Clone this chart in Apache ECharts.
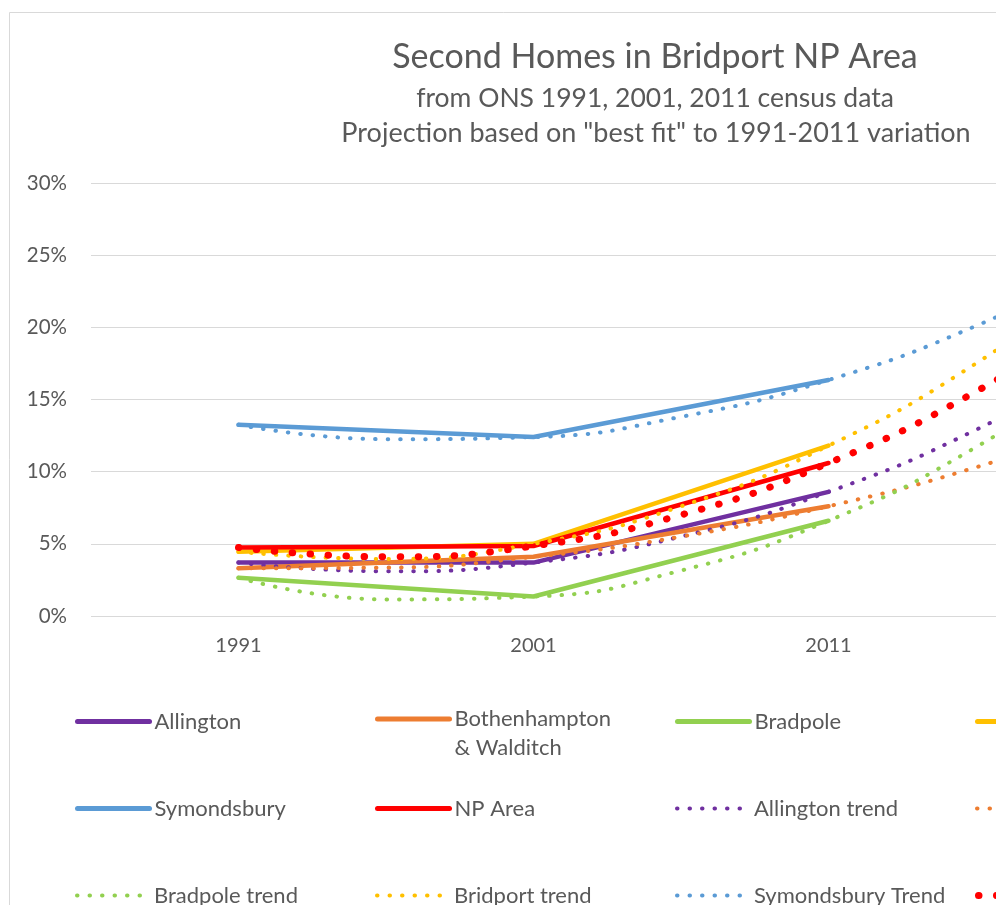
<!DOCTYPE html>
<html>
<head>
<meta charset="utf-8">
<title>Second Homes in Bridport NP Area</title>
<script src="https://cdn.jsdelivr.net/npm/echarts@6/dist/echarts.min.js"></script>
<style>
  html, body { margin: 0; padding: 0; background: #fff; }
  #chart { width: 996px; height: 905px; }
</style>
</head>
<body>
<div id="chart"></div>
<script>
// census years and the projected year
var years = [1991, 2001, 2011, 2021];
var trendYears = [1991, 1996, 2001, 2006, 2011, 2016, 2021];
var yTicks = ['0%', '5%', '10%', '15%', '20%', '25%', '30%'];

// share of second homes, %
var allington = [3.7, 3.7, 8.6];
var bothenhampton = [3.3, 4.1, 7.6];
var bradpole = [2.65, 1.35, 6.6];
var bridport = [4.45, 5.0, 11.8];
var symondsbury = [13.25, 12.4, 16.35];
var npArea = [4.75, 4.85, 10.6];

// dotted "best fit" curves, read at 5-year steps
var allingtonTrend = [3.7, 3.1, 3.7, 5.5, 8.6, 12.9, 18.4];
var bothenhamptonTrend = [3.3, 3.35, 4.1, 5.5, 7.6, 10.3, 13.7];
var bradpoleTrend = [2.65, 1.15, 1.35, 3.15, 6.6, 11.7, 18.4];
var bridportTrend = [4.45, 3.95, 5.0, 7.6, 11.8, 17.5, 24.8];
var symondsburyTrend = [13.25, 12.25, 12.4, 13.8, 16.35, 20.1, 25.0];
var npAreaTrend = [4.75, 4.1, 4.85, 7.0, 10.6, 15.55, 21.9];

var textColor = '#595959';
var font = 'Lato';

function pairs(xs, vs) {
  var out = [];
  for (var i = 0; i < vs.length; i++) out.push([xs[i], vs[i]]);
  return out;
}

function solid(name, color, vals) {
  return {
    name: name, type: 'line', symbol: 'none',
    data: pairs(years, vals),
    lineStyle: { color: color, width: 4.5, cap: 'round', join: 'round' },
    itemStyle: { color: color }
  };
}

function dotted(name, color, vals, w, gap) {
  return {
    name: name, type: 'line', symbol: 'none', smooth: true,
    data: pairs(trendYears, vals),
    lineStyle: { color: color, width: w, type: [0.5, gap], cap: 'round' },
    itemStyle: { color: color }
  };
}

var series = [
  solid('Allington', '#7030A0', allington),
  solid('Bothenhampton & Walditch', '#ED7D31', bothenhampton),
  solid('Bradpole', '#92D050', bradpole),
  solid('Bridport', '#FFC000', bridport),
  solid('Symondsbury', '#5B9BD5', symondsbury),
  solid('NP Area', '#FF0000', npArea),
  dotted('Allington trend', '#7030A0', allingtonTrend, 4, 12),
  dotted('Bothenhampton trend', '#ED7D31', bothenhamptonTrend, 4, 12),
  dotted('Bradpole trend', '#92D050', bradpoleTrend, 4, 12),
  dotted('Bridport trend', '#FFC000', bridportTrend, 4, 12),
  dotted('Symondsbury Trend', '#5B9BD5', symondsburyTrend, 4, 12),
  dotted('NP Area trend', '#FF0000', npAreaTrend, 7, 17.5)
];

// legend: 4 columns, one legend per entry so columns line up like Excel
var legendNames = [
  'Allington', 'Bothenhampton & Walditch', 'Bradpole', 'Bridport',
  'Symondsbury', 'NP Area', 'Allington trend', 'Bothenhampton trend',
  'Bradpole trend', 'Bridport trend', 'Symondsbury Trend', 'NP Area trend'
];
var legends = [];
for (var i = 0; i < legendNames.length; i++) {
  var col = i % 4, row = Math.floor(i / 4);
  var isTrend = i >= 6;
  var lg = {
    data: [legendNames[i]],
    left: 75 + col * 300,
    top: 707 + row * 87,
    padding: 0,
    itemWidth: 72,
    itemHeight: 24,
    itemStyle: { opacity: 0 },
    lineStyle: { width: legendNames[i] === 'NP Area trend' ? 7 : (isTrend ? 4 : 5), cap: 'round' },
    textStyle: { color: textColor, fontSize: 22, fontFamily: font, lineHeight: 29 },
    selectedMode: false
  };
  if (legendNames[i] === 'Bothenhampton & Walditch') {
    // empty first line keeps "Bothenhampton" level with the icon
    lg.formatter = function () { return '\nBothenhampton\n& Walditch'; };
    lg.top = 707 - 31.5;
  }
  legends.push(lg);
}

var chart = echarts.init(document.getElementById('chart'));
var option = {
  backgroundColor: '#fff',
  animation: false,
  title: [
    { text: 'Second Homes in Bridport NP Area', left: 655, top: 40, padding: 0, textAlign: 'center',
      textStyle: { color: textColor, fontSize: 34, fontWeight: 'normal', fontFamily: font, lineHeight: 34 } },
    { text: 'from ONS 1991, 2001, 2011 census data', left: 655, top: 85, padding: 0, textAlign: 'center',
      textStyle: { color: textColor, fontSize: 26.5, fontWeight: 'normal', fontFamily: font, lineHeight: 27 } },
    { text: 'Projection based on "best fit" to 1991-2011 variation', left: 656, top: 120, padding: 0, textAlign: 'center',
      textStyle: { color: textColor, fontSize: 27, fontWeight: 'normal', fontFamily: font, lineHeight: 27 } }
  ],
  graphic: [
    { type: 'rect', shape: { x: 9.5, y: 12.5, width: 2000, height: 2000 },
      style: { fill: null, stroke: '#d9d9d9', lineWidth: 1 }, silent: true }
  ],
  legend: legends,
  grid: { left: 91, top: 183, width: 1180, height: 433, outerBoundsMode: 'none', containLabel: false },
  xAxis: {
    type: 'value', min: 1986, max: 2026,
    axisLine: { show: false }, axisTick: { show: false }, splitLine: { show: false },
    axisLabel: {
      customValues: years, color: textColor, fontSize: 20, fontFamily: font, margin: 20,
      formatter: function (v) { return String(v); }
    }
  },
  yAxis: {
    type: 'value', min: 0, max: 30, interval: 5,
    axisLine: { show: false }, axisTick: { show: false },
    splitLine: { lineStyle: { color: '#d9d9d9', width: 1 } },
    axisLabel: {
      color: textColor, fontSize: 20.5, fontFamily: font, margin: 24,
      formatter: function (v) { return yTicks[v / 5]; }
    }
  },
  series: series
};
chart.setOption(option);
</script>
</body>
</html>
